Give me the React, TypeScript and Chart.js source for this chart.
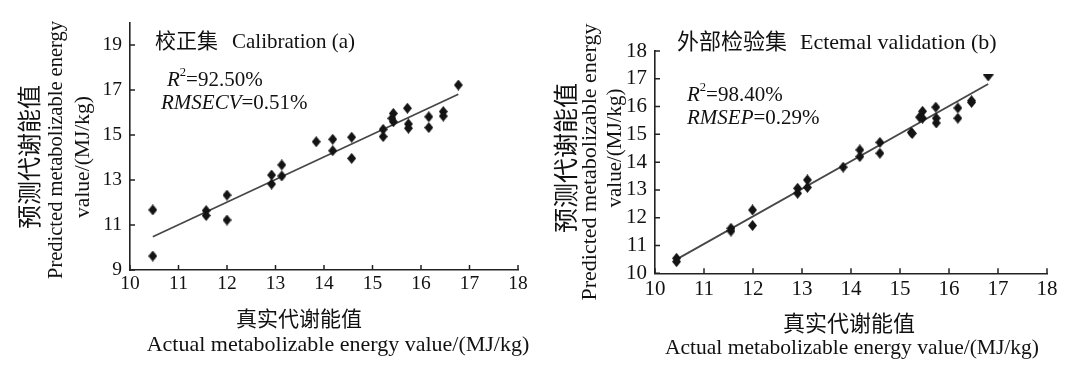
import React, { useEffect, useRef } from 'react';
import { Chart, registerables } from 'chart.js';

Chart.register(...registerables);

const SERIF = '"Liberation Serif", "Noto Sans CJK SC", serif';

// ---------- Data ----------
// (a) Calibration set: actual vs predicted metabolizable energy (MJ/kg)
const calActual = [10.47, 10.47, 11.57, 11.57, 12.0, 12.0, 12.92, 12.92, 13.13, 13.13, 13.84, 14.18, 14.18, 14.57, 14.57, 15.22, 15.22, 15.43, 15.4, 15.43, 15.72, 15.74, 15.74, 16.16, 16.16, 16.46, 16.46, 16.77];
const calPredicted = [11.67, 9.62, 11.64, 11.42, 12.33, 11.22, 13.22, 12.82, 13.67, 13.18, 14.7, 14.81, 14.3, 14.9, 13.96, 15.25, 14.93, 15.96, 15.74, 15.59, 16.19, 15.49, 15.3, 15.81, 15.33, 16.04, 15.84, 17.22];
const calFitX = [10.47, 16.77];
const calFitY = [10.48, 16.81];

// (b) External validation set
const valActual = [10.44, 10.44, 11.55, 11.55, 11.99, 11.99, 12.91, 12.91, 13.11, 13.11, 13.84, 14.18, 14.18, 14.59, 14.59, 15.23, 15.25, 15.4, 15.46, 15.46, 15.73, 15.74, 15.74, 16.18, 16.18, 16.46, 16.46, 16.8];
const valPredicted = [10.54, 10.42, 11.62, 11.52, 12.28, 11.72, 13.06, 12.88, 13.36, 13.09, 13.82, 14.44, 14.2, 14.71, 14.32, 15.07, 15.03, 15.62, 15.83, 15.58, 15.98, 15.58, 15.41, 15.95, 15.58, 16.21, 16.15, 17.03];
const valFitX = [10.44, 16.8];
const valFitY = [10.5, 16.81];

const calXTicks = [10, 11, 12, 13, 14, 15, 16, 17, 18];
const calYTicks = [9, 11, 13, 15, 17, 19];
const valXTicks = [10, 11, 12, 13, 14, 15, 16, 17, 18];
const valYTicks = [10, 11, 12, 13, 14, 15, 16, 17, 18];

// ---------- Marker images ----------
function makeMarker(kind: 'diamond' | 'down'): HTMLCanvasElement {
  const c = document.createElement('canvas');
  const w = kind === 'diamond' ? 9 : 11;
  const h = kind === 'diamond' ? 11 : 7;
  c.width = w;
  c.height = h;
  const g = c.getContext('2d')!;
  g.fillStyle = '#141414';
  g.beginPath();
  if (kind === 'diamond') {
    g.moveTo(w / 2, 0);
    g.lineTo(w, h / 2);
    g.lineTo(w / 2, h);
    g.lineTo(0, h / 2);
  } else {
    g.moveTo(0, 0);
    g.lineTo(w, 0);
    g.lineTo(w / 2, h);
  }
  g.closePath();
  g.fill();
  return c;
}

// ---------- Text helpers ----------
type Seg = { t: string; size: number; italic?: boolean; sup?: boolean; dx?: number };
type TextItem = { segs: Seg[]; x: number; y: number; align: 'left' | 'center'; rot?: boolean };

function segFont(s: Seg) {
  const size = s.sup ? s.size * 0.6 : s.size;
  return `${s.italic ? 'italic ' : ''}${size}px ${SERIF}`;
}

function drawRich(ctx: CanvasRenderingContext2D, item: TextItem) {
  ctx.save();
  ctx.fillStyle = '#111';
  ctx.textBaseline = 'middle';
  ctx.textAlign = 'left';
  let total = 0;
  for (const s of item.segs) {
    ctx.font = segFont(s);
    total += (s.dx || 0) + ctx.measureText(s.t).width;
  }
  ctx.translate(item.x, item.y);
  if (item.rot) ctx.rotate(-Math.PI / 2);
  let cx = item.align === 'center' ? -total / 2 : 0;
  for (const s of item.segs) {
    ctx.font = segFont(s);
    cx += s.dx || 0;
    const yOff = s.sup ? -s.size * 0.33 : 0;
    ctx.fillText(s.t, cx, yOff);
    cx += ctx.measureText(s.t).width;
  }
  ctx.restore();
}

function textPlugin(items: TextItem[]) {
  return {
    id: 'panelTexts',
    afterDraw(chart: any) {
      const ctx = chart.ctx as CanvasRenderingContext2D;
      items.forEach((it) => drawRich(ctx, it));
    },
  };
}

const inwardTicks = {
  id: 'inwardTicks',
  afterDatasetsDraw(chart: any) {
    const { ctx, scales } = chart;
    const xs = scales.x;
    const ys = scales.y;
    const len = 5;
    ctx.save();
    ctx.strokeStyle = '#222';
    ctx.lineWidth = 1.5;
    ctx.beginPath();
    xs.ticks.forEach((t: any) => {
      const px = xs.getPixelForValue(t.value);
      ctx.moveTo(px, ys.bottom);
      ctx.lineTo(px, ys.bottom - len);
    });
    ys.ticks.forEach((t: any) => {
      const py = ys.getPixelForValue(t.value);
      ctx.moveTo(xs.left, py);
      ctx.lineTo(xs.left + len, py);
    });
    ctx.stroke();
    ctx.restore();
  },
};

// ---------- Panel spec ----------
type PanelSpec = {
  xs: number[];
  ys: number[];
  fitX: number[];
  fitY: number[];
  xTicks: number[];
  yTicks: number[];
  yMin: number;
  yMax: number;
  pad: { left: number; top: number; right: number; bottom: number };
  yAxisW: number;
  xAxisH: number;
  tickSize: number;
  xTickPad: number;
  texts: TextItem[];
  downLast?: boolean;
};

function makeConfig(p: PanelSpec): any {
  const last = p.xs.length - 1;
  const diamond = makeMarker('diamond');
  const down = makeMarker('down');
  return {
    type: 'scatter',
    data: {
      datasets: [
        {
          type: 'line',
          data: p.fitX.map((x, i) => ({ x, y: p.fitY[i] })),
          borderColor: '#474747',
          borderWidth: 1.8,
          pointRadius: 0,
          fill: false,
          tension: 0,
          order: 2,
        },
        {
          type: 'scatter',
          data: p.xs.map((x, i) => ({ x, y: p.ys[i] })),
          backgroundColor: '#141414',
          borderColor: '#141414',
          borderWidth: 0,
          pointStyle: (c: any) => (p.downLast && c.dataIndex === last ? down : diamond),
          pointRadius: 6,
          order: 1,
        },
      ],
    },
    options: {
      animation: false,
      responsive: false,
      events: [],
      layout: { padding: p.pad },
      plugins: { legend: { display: false }, tooltip: { enabled: false } },
      scales: {
        x: {
          type: 'linear',
          min: 10,
          max: 18,
          afterBuildTicks: (axis: any) => {
            axis.ticks = p.xTicks.map((v) => ({ value: v }));
          },
          afterFit: (s: any) => {
            s.height = p.xAxisH;
          },
          ticks: {
            font: { family: SERIF, size: p.tickSize },
            color: '#111',
            padding: p.xTickPad,
            maxRotation: 0,
            autoSkip: false,
          },
          grid: { drawOnChartArea: false, drawTicks: false },
          border: { display: true, color: '#222', width: 1.6 },
        },
        y: {
          type: 'linear',
          min: p.yMin,
          max: p.yMax,
          afterBuildTicks: (axis: any) => {
            axis.ticks = p.yTicks.map((v) => ({ value: v }));
          },
          afterFit: (s: any) => {
            s.width = p.yAxisW;
          },
          ticks: {
            font: { family: SERIF, size: p.tickSize },
            color: '#111',
            padding: 8,
            autoSkip: false,
          },
          grid: { drawOnChartArea: false, drawTicks: false },
          border: { display: true, color: '#222', width: 1.6 },
        },
      },
    },
    plugins: [inwardTicks, textPlugin(p.texts)],
  };
}

const calSpec: PanelSpec = {
  xs: calActual,
  ys: calPredicted,
  fitX: calFitX,
  fitY: calFitY,
  xTicks: calXTicks,
  yTicks: calYTicks,
  yMin: 9,
  yMax: 20,
  pad: { left: 0, top: 22.5, right: 19, bottom: 0 },
  yAxisW: 130,
  xAxisH: 100,
  tickSize: 19.5,
  xTickPad: 2,
  texts: [
    { segs: [{ t: '校正集', size: 21 }, { t: 'Calibration (a)', size: 21, dx: 14 }], x: 155, y: 42, align: 'left' },
    { segs: [{ t: 'R', size: 21, italic: true }, { t: '2', size: 21, sup: true }, { t: '=92.50%', size: 21 }], x: 167, y: 80, align: 'left' },
    { segs: [{ t: 'RMSECV', size: 21, italic: true }, { t: '=0.51%', size: 21 }], x: 161, y: 103, align: 'left' },
    { segs: [{ t: '真实代谢能值', size: 21 }], x: 299, y: 320, align: 'center' },
    { segs: [{ t: 'Actual metabolizable energy value/(MJ/kg)', size: 22 }], x: 338, y: 345, align: 'center' },
    { segs: [{ t: '预测代谢能值', size: 24 }], x: 32, y: 157, align: 'center', rot: true },
    { segs: [{ t: 'Predicted metabolizable energy', size: 20.5 }], x: 57, y: 150, align: 'center', rot: true },
    { segs: [{ t: 'value/(MJ/kg)', size: 21.5 }], x: 83, y: 157, align: 'center', rot: true },
  ],
};

const valSpec: PanelSpec = {
  xs: valActual,
  ys: valPredicted,
  fitX: valFitX,
  fitY: valFitY,
  xTicks: valXTicks,
  yTicks: valYTicks,
  yMin: 10,
  yMax: 18,
  pad: { left: 0, top: 51, right: 27, bottom: 0 },
  yAxisW: 118,
  xAxisH: 96.7,
  tickSize: 21,
  xTickPad: 4,
  downLast: true,
  texts: [
    { segs: [{ t: '外部检验集', size: 22 }, { t: 'Ectemal validation (b)', size: 22, dx: 13 }], x: 140, y: 43, align: 'left' },
    { segs: [{ t: 'R', size: 21, italic: true }, { t: '2', size: 21, sup: true }, { t: '=98.40%', size: 21 }], x: 150, y: 95, align: 'left' },
    { segs: [{ t: 'RMSEP', size: 21, italic: true }, { t: '=0.29%', size: 21 }], x: 150, y: 118, align: 'left' },
    { segs: [{ t: '真实代谢能值', size: 22 }], x: 312, y: 325, align: 'center' },
    { segs: [{ t: 'Actual metabolizable energy value/(MJ/kg)', size: 21.5 }], x: 315, y: 348, align: 'center' },
    { segs: [{ t: '预测代谢能值', size: 25 }], x: 31, y: 158, align: 'center', rot: true },
    { segs: [{ t: 'Predicted metabolizable energy', size: 22 }], x: 53, y: 162, align: 'center', rot: true },
    { segs: [{ t: 'value/(MJ/kg)', size: 21 }], x: 78, y: 148, align: 'center', rot: true },
  ],
};

function Panel({ spec, left, width }: { spec: PanelSpec; left: number; width: number }) {
  const ref = useRef<HTMLCanvasElement>(null);
  useEffect(() => {
    if (!ref.current) return;
    const chart = new Chart(ref.current, makeConfig(spec));
    return () => chart.destroy();
  }, [spec]);
  return (
    <div style={{ position: 'absolute', left, top: 0, width, height: 370 }}>
      <canvas ref={ref} width={width} height={370} style={{ width, height: 370, display: 'block' }} />
    </div>
  );
}

export default function App() {
  return (
    <div style={{ position: 'absolute', left: 0, top: 0, width: 1074, height: 370, background: '#fff', overflow: 'hidden' }}>
      <Panel spec={calSpec} left={0} width={537} />
      <Panel spec={valSpec} left={537} width={537} />
    </div>
  );
}
